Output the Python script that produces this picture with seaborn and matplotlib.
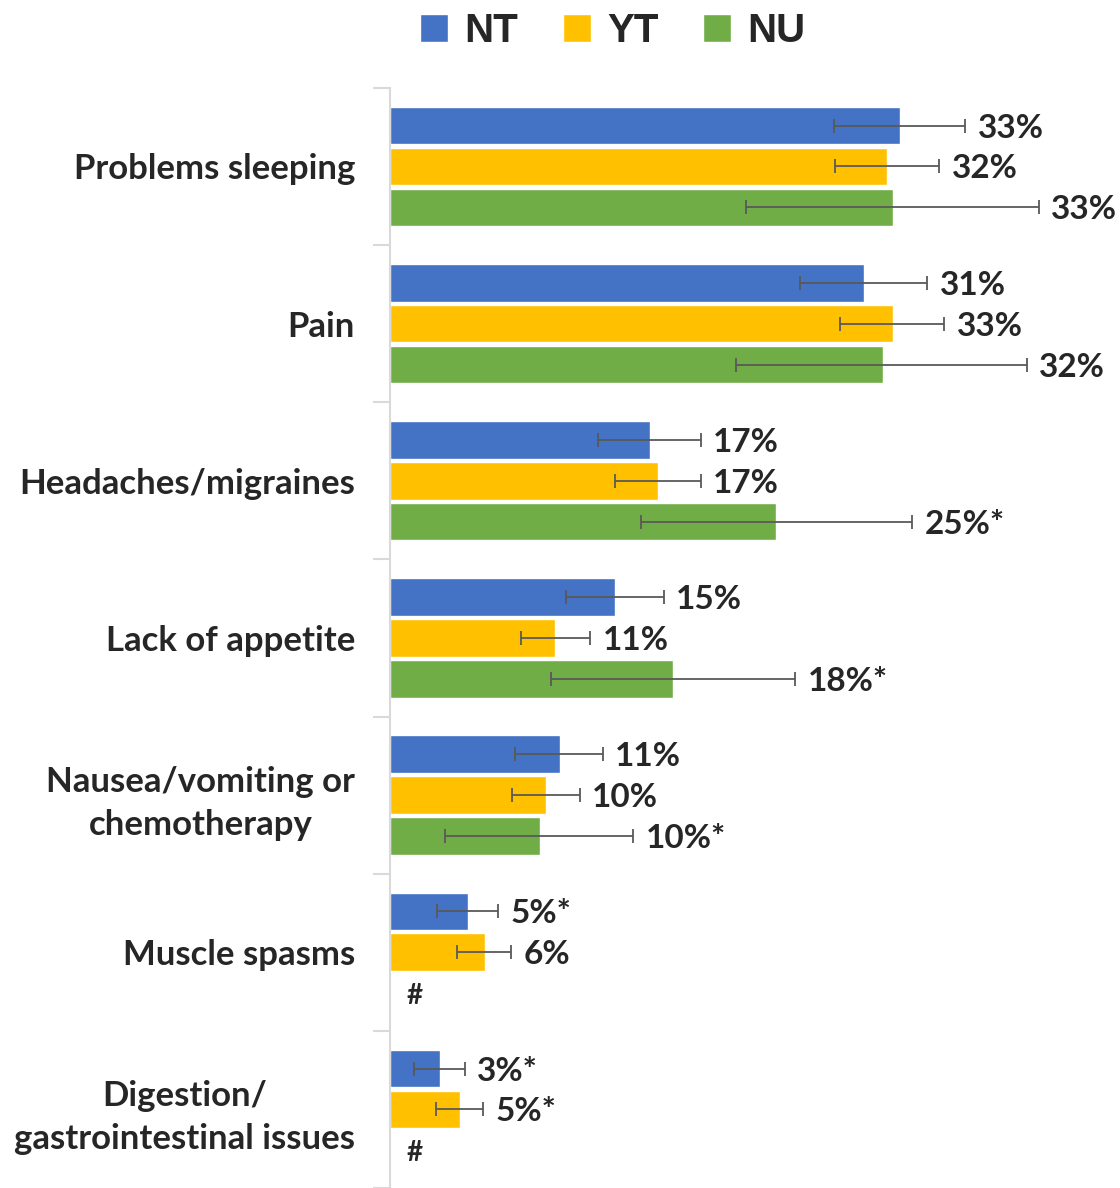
import matplotlib
matplotlib.use('Agg')
import matplotlib.pyplot as plt
import seaborn as sns
import pandas as pd
import numpy as np

# symptom categories (top to bottom)
categories = ['Problems sleeping', 'Pain', 'Headaches/migraines', 'Lack of appetite',
              'Nausea/vomiting or\nchemotherapy', 'Muscle spasms',
              'Digestion/\ngastrointestinal issues']
series = ['NT', 'YT', 'NU']
colors = ['#4472C4', '#FFC000', '#70AD47']

# percentages (None = suppressed, shown as #)
nt_vals = [33.3, 31.0, 17.0, 14.7, 11.1, 5.1, 3.3]
yt_vals = [32.5, 32.9, 17.5, 10.8, 10.2, 6.2, 4.6]
nu_vals = [32.9, 32.2, 25.2, 18.5, 9.8, None, None]

# 95% confidence interval ends
nt_lo = [29.0, 26.8, 13.6, 11.5, 8.2, 3.1, 1.6]
nt_hi = [37.6, 35.1, 20.3, 17.9, 13.9, 7.1, 4.9]
yt_lo = [29.1, 29.4, 14.7, 8.6, 8.0, 4.4, 3.0]
yt_hi = [35.9, 36.2, 20.3, 13.1, 12.4, 7.9, 6.1]
nu_lo = [23.3, 22.6, 16.4, 10.5, 3.6, None, None]
nu_hi = [42.4, 41.6, 34.1, 26.5, 15.9, None, None]

# bar labels
nt_labels = ['33%', '31%', '17%', '15%', '11%', '5%*', '3%*']
yt_labels = ['32%', '33%', '17%', '11%', '10%', '6%', '5%*']
nu_labels = ['33%', '32%', '25%*', '18%*', '10%*', '#', '#']

vals = [nt_vals, yt_vals, nu_vals]
los = [nt_lo, yt_lo, nu_lo]
his = [nt_hi, yt_hi, nu_hi]
labels = [nt_labels, yt_labels, nu_labels]

rows = []
for s, v in zip(series, vals):
    for c, x in zip(categories, v):
        rows.append({'category': c, 'region': s, 'pct': x})
df = pd.DataFrame(rows).dropna()

sns.set_style('white')
plt.rcParams['font.family'] = ['Lato', 'DejaVu Sans']

fig = plt.figure(figsize=(11.2, 11.88), dpi=100)
ax = fig.add_axes([0.348, 0.0, 0.652, 0.926])

sns.barplot(data=df, y='category', x='pct', hue='region', order=categories,
            hue_order=series, palette=colors, orient='h', width=0.78, gap=0.08,
            saturation=1, errorbar=None, legend=True, ax=ax)

# error bars and value labels, matched to each drawn bar
nu_offset = None
bar_sets = list(ax.containers)
for j, cont in enumerate(bar_sets):
    for p in cont.patches:
        yc = p.get_y() + p.get_height() / 2
        i = int(round(yc))
        if j == 2:
            nu_offset = yc - i
        v = vals[j][i]
        ax.errorbar(v, yc, xerr=[[v - los[j][i]], [his[j][i] - v]], fmt='none',
                    ecolor='#595959', elinewidth=1.3, capsize=5, capthick=1.3)
        ax.annotate(labels[j][i], (his[j][i], yc), xytext=(9, 0),
                    textcoords='offset points', ha='left', va='center_baseline',
                    fontsize=24, fontweight='bold')

# suppressed NU values
for i, v in enumerate(nu_vals):
    if v is None:
        ax.annotate(nu_labels[i], (0, i + nu_offset), xytext=(12, 0),
                    textcoords='offset points', ha='left', va='center_baseline',
                    fontsize=20, fontweight='bold')

ax.set_xlim(0, 47.7)
ax.set_ylim(6.5, -0.5)
ax.set_xlabel('')
ax.set_ylabel('')
ax.set_xticks([])
for side in ['top', 'right', 'bottom']:
    ax.spines[side].set_visible(False)
ax.spines['left'].set_color('#d9d9d9')
ax.spines['left'].set_linewidth(1.5)

ax.set_yticks(np.arange(len(categories) + 1) - 0.5, minor=True)
ax.tick_params(axis='y', which='minor', length=12, color='#d9d9d9', width=1.5, left=True)
ax.tick_params(axis='y', which='major', length=0, pad=25)
ax.set_yticks(range(len(categories)))
ax.set_yticklabels(categories, fontsize=25, fontweight='bold',
                   multialignment='center', linespacing=1.4)

handles, names = ax.get_legend_handles_labels()
ax.legend_.remove()
fig.legend(handles, names, loc='upper center', bbox_to_anchor=(0.547, 1.02), ncol=3,
           frameon=False, handlelength=0.7, handleheight=0.7, handletextpad=0.4,
           columnspacing=1.1, prop={'family': 'Liberation Sans', 'weight': 'bold', 'size': 29})

fig.savefig('out.png', dpi=100)
